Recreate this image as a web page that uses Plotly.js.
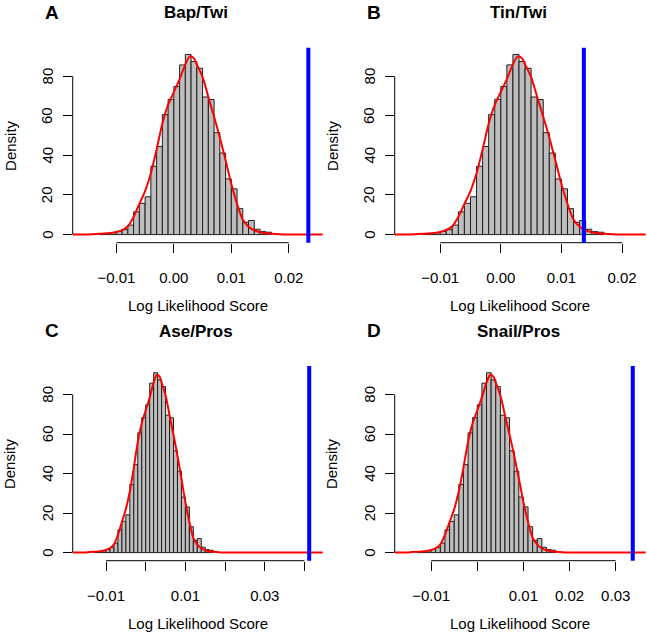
<!DOCTYPE html>
<html>
<head>
<meta charset="utf-8">
<script src="https://cdn.plot.ly/plotly-3.0.1.min.js"></script>
<style>
  body { margin: 0; background: #fff; }
  #chart { width: 647px; height: 637px; }
</style>
</head>
<body>
<div id="chart"></div>
<script>
// histogram of permuted scores (same in every panel), bins of 0.001
var binLeft = [-0.013, -0.012, -0.011, -0.010, -0.009, -0.008, -0.007, -0.006, -0.005, -0.004,
               -0.003, -0.002, -0.001, 0.000, 0.001, 0.002, 0.003, 0.004, 0.005, 0.006,
               0.007, 0.008, 0.009, 0.010, 0.011, 0.012, 0.013, 0.014, 0.015, 0.016];
var density = [0.3, 0.6, 1.0, 1.6, 2.5, 4.8, 11.5, 15.8, 19.1, 34.5,
               44.5, 60.6, 68.3, 74.8, 85.7, 91.0, 87.4, 84.0, 69.5, 68.2,
               51.5, 41.2, 28.1, 23.1, 13.1, 6.2, 7.1, 2.7, 1.5, 1.2];

// kernel density curve (red)
var kdeX = [-0.030, -0.0175, -0.015, -0.013, -0.011, -0.010, -0.009, -0.008, -0.007, -0.006,
            -0.005, -0.004, -0.003, -0.002, -0.001, 0.000, 0.001, 0.002, 0.0028, 0.0035,
            0.004, 0.005, 0.006, 0.007, 0.008, 0.009, 0.010, 0.011, 0.012, 0.013,
            0.014, 0.015, 0.016, 0.017, 0.019, 0.021, 0.030, 0.050];
var kdeY = [0, 0, 0.1, 0.4, 0.8, 1.3, 2.3, 4.2, 9.0, 15.5,
            22.0, 31.0, 43.0, 56.0, 65.5, 72.0, 78.5, 86.0, 90.0, 89.0,
            86.0, 79.5, 69.5, 59.5, 49.0, 37.5, 25.5, 15.5, 7.5, 4.0,
            2.2, 1.2, 0.7, 0.4, 0.1, 0, 0, 0];

var panelLetters = ['A', 'B', 'C', 'D'];
var panelTitles = ['Bap/Twi', 'Tin/Twi', 'Ase/Pros', 'Snail/Pros'];
var observed = [0.0234, 0.0137, 0.0412, 0.0337];

var xTicks = [
  [-0.01, 0, 0.01, 0.02],
  [-0.01, 0, 0.01, 0.02],
  [-0.01, 0, 0.01, 0.02, 0.03, 0.04],
  [-0.01, 0, 0.01, 0.02, 0.03]
];
var xTickText = [
  ['\u22120.01', '0.00', '0.01', '0.02'],
  ['\u22120.01', '0.00', '0.01', '0.02'],
  ['\u22120.01', '', '0.01', '', '0.03', ''],
  ['\u22120.01', '', '0.01', '0.02', '0.03']
];
var yTicks = [0, 20, 40, 60, 80];

// plot boxes in pixels: left, top, right, bottom
var W = 647, H = 637;
var boxes = [
  [72.7, 47.7, 322.7, 242.7],
  [394.7, 47.7, 645.7, 242.7],
  [72.7, 366, 322.7, 560.7],
  [394.7, 366, 645.7, 560.7]
];
var xRanges = [[-0.0176, 0.0259], [-0.0175, 0.0239], [-0.0184, 0.0446], [-0.0179, 0.0365]];
var yRange = [-4.1, 94.4];

var font = 'Liberation Sans, Arial, Helvetica, sans-serif';
var data = [];
var shapes = [];
var annotations = [];
var layout = {
  width: W, height: H,
  margin: {l: 0, r: 0, t: 0, b: 0},
  paper_bgcolor: 'white',
  plot_bgcolor: 'white',
  showlegend: false,
  font: {family: font, size: 15, color: 'black'}
};

function label(txt, px, py, size, angle) {
  return {text: txt, xref: 'paper', yref: 'paper', x: px / W, y: 1 - py / H,
    xanchor: 'center', yanchor: 'middle', showarrow: false, textangle: angle || 0,
    font: {size: size, color: 'black'}};
}

for (var i = 0; i < 4; i++) {
  var n = i === 0 ? '' : String(i + 1);
  var xa = 'x' + n, ya = 'y' + n;
  var b = boxes[i];

  data.push({
    type: 'bar', x: binLeft, y: density, xaxis: xa, yaxis: ya,
    width: 0.001, offset: 0,
    marker: {color: 'rgb(190,190,190)', line: {color: 'rgb(30,30,30)', width: 1}},
    hoverinfo: 'skip'
  });
  data.push({
    type: 'scatter', mode: 'lines', x: kdeX, y: kdeY, xaxis: xa, yaxis: ya,
    line: {color: 'red', width: 2, shape: 'spline', smoothing: 0.8},
    hoverinfo: 'skip'
  });

  layout['xaxis' + n] = {
    domain: [b[0] / W, b[2] / W], anchor: ya, range: xRanges[i],
    tickvals: xTicks[i], ticktext: xTickText[i],
    ticks: 'outside', ticklen: 9, tickwidth: 1, tickcolor: 'black',
    ticklabelstandoff: 12,
    showline: false, showgrid: false, zeroline: false, fixedrange: true,
    tickfont: {size: 15, color: 'black'}
  };
  layout['yaxis' + n] = {
    domain: [1 - b[3] / H, 1 - b[1] / H], anchor: xa, range: yRange,
    tickvals: yTicks, showticklabels: false,
    ticks: 'outside', ticklen: 9, tickwidth: 1, tickcolor: 'black',
    showline: false, showgrid: false, zeroline: false, fixedrange: true
  };

  // y tick labels, rotated like R's default
  yTicks.forEach(function (v) {
    annotations.push({text: String(v), xref: 'paper', yref: ya, x: (b[0] - 25.5) / W, y: v,
      xanchor: 'center', yanchor: 'middle', textangle: -90, showarrow: false,
      font: {size: 15, color: 'black'}});
  });

  // R-style axis lines spanning first to last tick
  var xt = xTicks[i];
  shapes.push({type: 'line', xref: xa, yref: ya + ' domain',
    x0: xt[0], x1: xt[xt.length - 1], y0: 0, y1: 0,
    line: {color: 'black', width: 1}});
  shapes.push({type: 'line', xref: xa + ' domain', yref: ya,
    x0: 0, x1: 0, y0: yTicks[0], y1: yTicks[yTicks.length - 1],
    line: {color: 'black', width: 1}});
  // observed score
  shapes.push({type: 'line', xref: xa, yref: ya + ' domain',
    x0: observed[i], x1: observed[i], y0: 0, y1: 1,
    line: {color: 'rgb(0,0,255)', width: 4}});

  var cx = (b[0] + b[2]) / 2;
  var rowTop = i < 2 ? 0 : 318.5;
  annotations.push(label('<b>' + panelTitles[i] + '</b>', cx - 1.5, rowTop + 12.5, 17));
  annotations.push(label('<b>' + panelLetters[i] + '</b>', b[0] - 21, rowTop + 12, 19));
  annotations.push(label('Log Likelihood Score', cx, b[3] + 62.5, 15));
  annotations.push(label('Density', b[0] - 63, (b[1] + b[3]) / 2, 15, -90));
}

layout.shapes = shapes;
layout.annotations = annotations;

Plotly.newPlot('chart', data, layout, {displayModeBar: false, staticPlot: true});
</script>
</body>
</html>
